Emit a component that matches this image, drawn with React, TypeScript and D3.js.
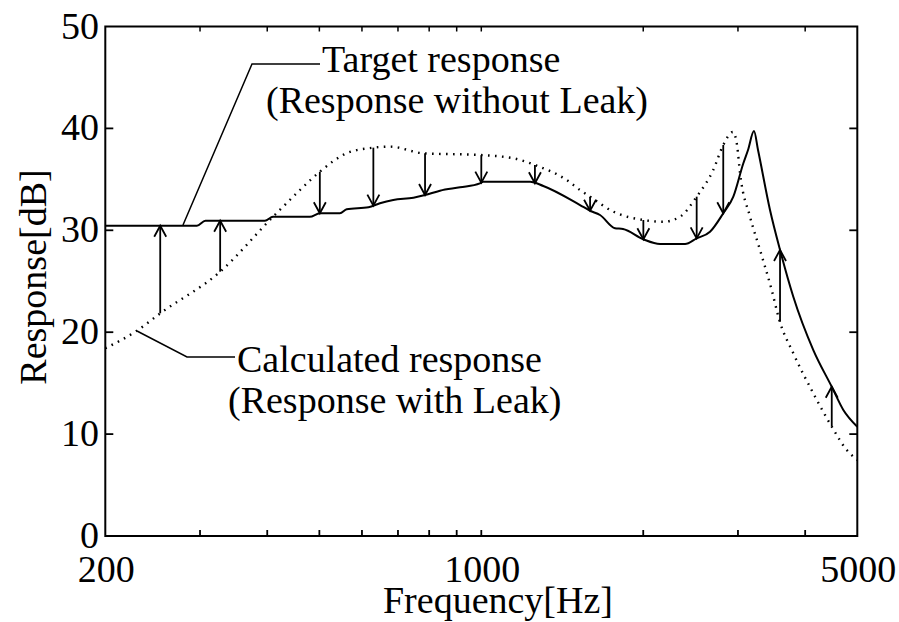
import * as d3 from "d3";

// Target response (solid, without leak)
const targetHz = [200, 296, 307, 396, 410, 480, 501, 546, 562, 617, 648, 686, 748, 786, 838, 913, 994, 1008, 1232, 1304, 1526, 1593, 1662, 1772, 1834, 2001, 2149, 2392, 2514, 2662, 2817, 2941, 3070, 3132, 3213, 3269, 3441, 3592, 3802, 4142, 4482, 4710, 5000];
const targetDb = [30.45, 30.45, 30.94, 30.94, 31.33, 31.33, 31.67, 31.67, 32.06, 32.26, 32.65, 32.97, 33.2, 33.46, 33.89, 34.22, 34.61, 34.77, 34.77, 34.35, 32.48, 31.92, 31.5, 30.2, 30.13, 29.12, 28.66, 28.66, 29.21, 29.86, 31.67, 33.3, 36.58, 37.88, 39.74, 37.88, 31.99, 28.07, 23.48, 18.25, 14.65, 12.37, 10.73];

// Calculated response (dotted, with leak)
const calcHz = [200, 229, 253, 327, 410, 422, 460, 501, 562, 630, 677, 780, 994, 1147, 1258, 1441, 1526, 1593, 1760, 2001, 2179, 2341, 2514, 2699, 2817, 2937, 2988, 3027, 3159, 3297, 3466, 3581, 3802, 4142, 4482, 4779, 5000];
const calcDb = [18.42, 20.15, 21.85, 25.94, 31.33, 31.99, 33.95, 35.75, 37.56, 38.11, 38.21, 37.56, 37.39, 37.07, 36.41, 34.94, 33.95, 33.3, 31.83, 31.01, 30.84, 31.33, 33.3, 35.92, 38.37, 39.65, 38.37, 35.59, 31.33, 28.07, 24.14, 21.2, 17.93, 14.0, 10.73, 8.44, 7.46];

// correction arrows, from calculated to target
const arrowHz = [253, 327, 501, 630, 786, 1000, 1258, 1593, 2001, 2514, 2817, 3592, 4482];

const yTicks = [0, 10, 20, 30, 40, 50];
const xLabelTicks = [200, 1000, 5000];
const xMinorTicks = [300, 400, 500, 600, 700, 800, 900, 1000, 2000, 3000, 4000];

const W = 899, H = 622;
const FONT = "Liberation Serif, DejaVu Serif, Times New Roman, serif";
const FS = 38;
const TXT = { fontFamily: FONT, fontSize: FS, fill: "#000" };

export default function App() {
  const x = d3.scaleLog().domain([200, 5000]).range([105.3, 857.3]);
  const y = d3.scaleLinear().domain([0, 50]).range([536, 26.5]);
  const L = x.range()[0], R = x.range()[1], T = y(50), B = y(0);

  const tgt = d3.scaleLog().domain(targetHz).range(targetDb);
  const calc = d3.scaleLog().domain(calcHz).range(calcDb);

  const line = d3.line<[number, number]>().x(d => x(d[0])).y(d => y(d[1])).curve(d3.curveMonotoneX);
  const tgtPath = line(targetHz.map((f, i) => [f, targetDb[i]]));
  const calcPath = line(calcHz.map((f, i) => [f, calcDb[i]]));

  return (
    <svg width={W} height={H} viewBox={`0 0 ${W} ${H}`} style={{ position: "absolute", left: 0, top: 0, background: "#fff" }}>
      {/* frame */}
      <rect x={L} y={T} width={R - L} height={B - T} fill="none" stroke="#000" strokeWidth="2" />
      {yTicks.slice(1, -1).map(t => (
        <g key={t}>
          <line x1={L} x2={L + 8} y1={y(t)} y2={y(t)} stroke="#000" strokeWidth="1.8" />
          <line x1={R} x2={R - 8} y1={y(t)} y2={y(t)} stroke="#000" strokeWidth="1.8" />
        </g>
      ))}
      {yTicks.map(t => (
        <text key={t} x={99} y={y(t) + 12} textAnchor="end" style={TXT}>{t}</text>
      ))}
      {xMinorTicks.map(t => (
        <g key={t}>
          <line x1={x(t)} x2={x(t)} y1={B} y2={B - 6} stroke="#000" strokeWidth="1.8" />
          <line x1={x(t)} x2={x(t)} y1={T} y2={T + 5} stroke="#000" strokeWidth="1.5" />
        </g>
      ))}
      {xLabelTicks.map(t => (
        <text key={t} x={x(t) + 1} y={582} textAnchor="middle" style={TXT}>{t}</text>
      ))}
      <text x={498} y={613} textAnchor="middle" style={TXT}>Frequency[Hz]</text>
      <text transform={`translate(46 277) rotate(-90)`} textAnchor="middle" style={TXT}>Response[dB]</text>

      {/* curves */}
      <path d={calcPath ?? ""} fill="none" stroke="#000" strokeWidth="2.4" strokeDasharray="1.6 5.4" />
      <path d={tgtPath ?? ""} fill="none" stroke="#000" strokeWidth="2" />

      {/* arrows */}
      {arrowHz.map(f => {
        const y0 = y(calc(f)), y1 = y(tgt(f)), cx = x(f);
        const dir = y1 > y0 ? 1 : -1;
        return (
          <g key={f} stroke="#000" strokeWidth="1.8" fill="none">
            <line x1={cx} x2={cx} y1={y0} y2={y1} />
            <path d={`M${cx - 6},${y1 - dir * 11}L${cx},${y1}L${cx + 6},${y1 - dir * 11}`} />
          </g>
        );
      })}

      {/* annotations */}
      <g stroke="#000" strokeWidth="1.5" fill="none">
        <path d="M183,225L252,64L320,64" />
        <path d="M137,331L187,357L235,357" />
      </g>
      <text x={322} y={72} style={TXT}>Target response</text>
      <text x={266} y={113} style={TXT}>(Response without Leak)</text>
      <text x={237} y={372} style={TXT}>Calculated response</text>
      <text x={228} y={413} style={TXT}>(Response with Leak)</text>
    </svg>
  );
}
